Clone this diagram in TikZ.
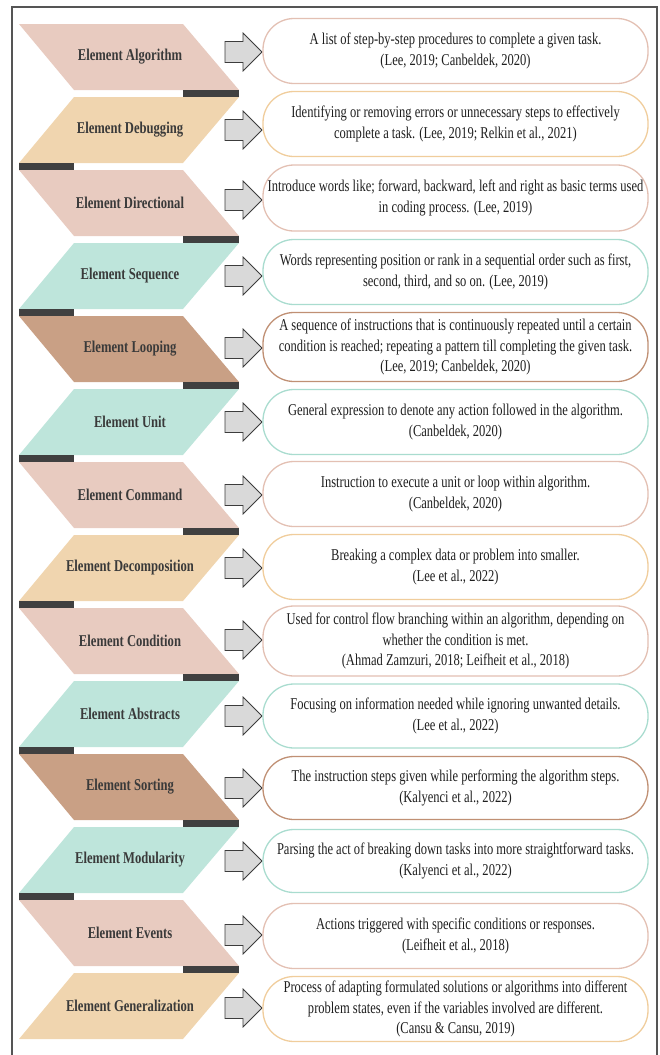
\documentclass[tikz,border=0pt]{standalone}
\usepackage{fontspec}
\setmainfont{Liberation Serif}
\newfontfamily\descfont{Liberation Serif}[FakeStretch=0.76]
\newfontfamily\labfont{Liberation Serif}[FakeStretch=0.765]
\definecolor{pinkF}{HTML}{E8CBC0}
\definecolor{pinkD}{HTML}{E3C0B3}
\definecolor{tanF}{HTML}{F0D5AF}
\definecolor{tanD}{HTML}{F0CD9C}
\definecolor{mintF}{HTML}{BEE5DB}
\definecolor{mintD}{HTML}{A9DCCF}
\definecolor{brownF}{HTML}{C9A085}
\definecolor{brownD}{HTML}{C09074}
\definecolor{barc}{HTML}{404040}
\definecolor{labc}{HTML}{3A3A3A}
\definecolor{arrF}{HTML}{D9D9D9}
\definecolor{arrD}{HTML}{3C3C3C}
\definecolor{frame}{HTML}{555555}
\tikzset{
  lab/.style={font=\labfont\bfseries\fontsize{16.5}{19}\selectfont, text=labc, inner sep=0pt},
  descbox/.style={rectangle, rounded corners=31pt, line width=1.3pt, fill=white,
    minimum width=385pt, inner xsep=0pt, inner ysep=1pt,
    align=center, text=black!88, font=\descfont\fontsize{16.5}{20.5}\selectfont},
  blockarrow/.style={fill=arrF, draw=arrD, line width=0.8pt, line join=miter}
}
\newcommand{\elrow}[7]{%
  \pgfmathsetmacro{\T}{24+73*(#1-1)}%
  \pgfmathsetmacro{\B}{\T+66}%
  \ifodd#1
    \fill[#2F] (19,\T) -- (183,\T) -- (239,\B) -- (74,\B) -- cycle;
    \fill[barc] (183,\B) rectangle (239,\B+7);
  \else
    \fill[#2F] (74,\T) -- (239,\T) -- (183,\B) -- (19,\B) -- cycle;
    \ifnum#1<14 \fill[barc] (19,\B) rectangle (74,\B+7);\fi
  \fi
  \node[lab] (L#1) at (130,\T+33) {#3};
  \coordinate (A#1) at (225,#6);
  \draw[blockarrow] (A#1) ++(0,-10.5) -- ++(18,0) -- ++(0,-8.5) -- ++(19,19)
     -- ++(-19,19) -- ++(0,-8.5) -- ++(-18,0) -- cycle;
  \node[descbox, draw=#2D, minimum height=#7] (D#1) at (455.5,#5) {#4};
}
\begin{document}
\begin{tikzpicture}[x=1pt,y=-1pt]
\useasboundingbox (0,0) rectangle (659,1055);
\draw[frame, line width=1.2pt] (12,1060) -- (12,7) -- (657,7) -- (657,1060);
\elrow{1}{pink}{Element Algorithm}{A list of step-by-step procedures to complete a given task.\\(Lee, 2019; Canbeldek, 2020)}{51}{52}{65pt}
\elrow{2}{tan}{Element Debugging}{Identifying or removing errors or unnecessary steps to effectively\\complete a task. (Lee, 2019; Relkin et al., 2021)}{124}{130}{65pt}
\elrow{3}{pink}{Element Directional}{Introduce words like; forward, backward, left and right as basic terms used\\in coding process. (Lee, 2019)}{198}{200}{66pt}
\elrow{4}{mint}{Element Sequence}{Words representing position or rank in a sequential order such as first,\\second, third, and so on. (Lee, 2019)}{272}{276}{65pt}
\elrow{5}{brown}{Element Looping}{A sequence of instructions that is continuously repeated until a certain\\condition is reached; repeating a pattern till completing the given task.\\(Lee, 2019; Canbeldek, 2020)}{347}{348}{69pt}
\elrow{6}{mint}{Element Unit}{General expression to denote any action followed in the algorithm.\\(Canbeldek, 2020)}{422}{422}{65pt}
\elrow{7}{pink}{Element Command}{Instruction to execute a unit or loop within algorithm.\\(Canbeldek, 2020)}{494}{495}{65pt}
\elrow{8}{tan}{Element Decomposition}{Breaking a complex data or problem into smaller.\\(Lee et al., 2022)}{567}{568}{65pt}
\elrow{9}{pink}{Element Condition}{Used for control flow branching within an algorithm, depending on\\whether the condition is met.\\(Ahmad Zamzuri, 2018; Leifheit et al., 2018)}{641}{640}{70pt}
\elrow{10}{mint}{Element Abstracts}{Focusing on information needed while ignoring unwanted details.\\(Lee et al., 2022)}{716}{716}{64pt}
\elrow{11}{brown}{Element Sorting}{The instruction steps given while performing the algorithm steps.\\(Kalyenci et al., 2022)}{788}{788}{63pt}
\elrow{12}{mint}{Element Modularity}{Parsing the act of breaking down tasks into more straightforward tasks.\\(Kalyenci et al., 2022)}{861}{861}{63pt}
\elrow{13}{pink}{Element Events}{Actions triggered with specific conditions or responses.\\(Leifheit et al., 2018)}{936}{935}{65pt}
\elrow{14}{tan}{Element Generalization}{Process of adapting formulated solutions or algorithms into different\\problem states, even if the variables involved are different.\\(Cansu \& Cansu, 2019)}{1009}{1008}{65pt}
\end{tikzpicture}
\end{document}
